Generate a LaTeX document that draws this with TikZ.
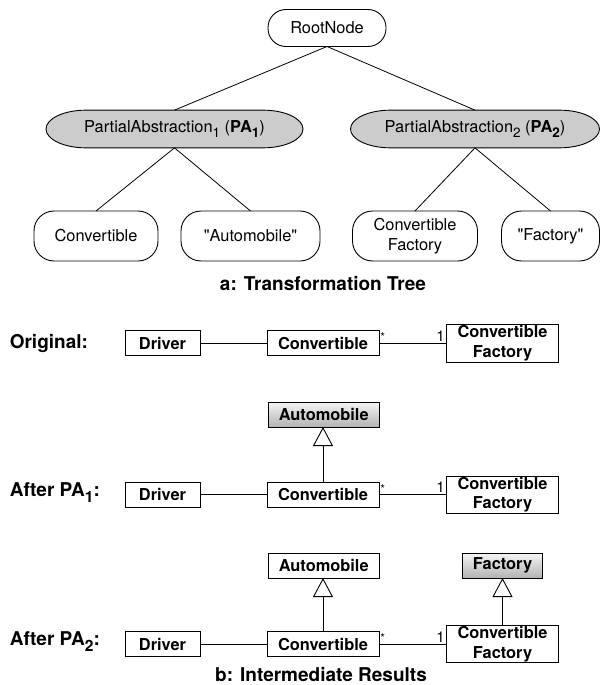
\documentclass[tikz,border=0pt]{standalone}
\usepackage{fontspec}
\setmainfont{TeX Gyre Heros}[Ligatures=TeXOff]
\usetikzlibrary{arrows.meta,backgrounds}
\newcommand\fsn{\fontsize{16.4}{19.5}\selectfont}
\newcommand\fsl{\fontsize{19}{22}\selectfont}
\newcommand\mysub[1]{\raisebox{-0.32em}{\scalebox{0.82}{#1}}}
\newcommand\pashape[1]{\draw[pafill] ([xshift=40pt]#1.north west) -- ([xshift=-40pt]#1.north east) arc[start angle=90,end angle=-90,x radius=40pt,y radius=18.85pt] -- ([xshift=40pt]#1.south west) arc[start angle=270,end angle=90,x radius=40pt,y radius=18.85pt] -- cycle;}
\tikzset{
  conn/.style={line width=0.8pt},
  leaf/.style={draw, line width=0.9pt, rounded corners=20pt, minimum height=50pt, inner sep=0pt, outer sep=0pt, align=center, font=\fsn},
  rootbox/.style={draw, line width=0.9pt, rounded corners=18pt, minimum height=37pt, minimum width=118pt, inner sep=0pt, outer sep=0pt, font=\fsn},
  panode/.style={minimum height=37.7pt, minimum width=257pt, inner sep=0pt, outer sep=0pt, font=\fsn},
  pafill/.style={draw, line width=0.9pt, fill=black!20},
  cls/.style={draw, line width=1pt, minimum height=25pt, inner sep=0pt, outer sep=0pt, align=center, font=\bfseries\fsn, fill=white},
  grcls/.style={cls, top color=black!4, bottom color=black!30},
  lbl/.style={anchor=west, inner sep=0pt, font=\bfseries\fsl},
  captxt/.style={inner sep=0pt, font=\bfseries\fsl},
  multone/.style={inner sep=1.5pt, font=\fontsize{15}{16}\selectfont},
  multstar/.style={inner sep=1pt, font=\fontsize{12}{13}\selectfont},
  gen/.style={line width=0.9pt, -{Triangle[open, fill=white, width=20pt, length=19pt]}},
}
\begin{document}
\begin{tikzpicture}[x=1pt, y=-1pt]
\useasboundingbox (0,0) rectangle (601,685);
% ---- a: tree
\node[rootbox] (root) at (327,28) {RootNode};
\node[panode] (pa1) at (174.5,129) {PartialAbstraction\mysub{1} (\textbf{PA\mysub{1}})};
\node[panode, minimum width=249pt] (pa2) at (475,129) {PartialAbstraction\mysub{2} (\textbf{PA\mysub{2}})};
\begin{scope}[on background layer]
\pashape{pa1}
\pashape{pa2}
\end{scope}
\node[leaf, minimum width=124pt] (lconv) at (96,236) {Convertible};
\node[leaf, minimum width=139pt] (lauto) at (250.5,236) {"Automobile"};
\node[leaf, minimum width=125pt] (lcf) at (415,236) {Convertible\\Factory};
\node[leaf, minimum width=98pt] (lfac) at (550.5,236) {"Factory"};
\draw[conn] (root.south) -- (pa1.north);
\draw[conn] (root.south) -- (pa2.north);
\draw[conn] (pa1.south) -- (lconv.north);
\draw[conn] (pa1.south) -- (lauto.north);
\draw[conn] (pa2.south) -- (lcf.north);
\draw[conn] (pa2.south) -- (lfac.north);
\node[captxt] (capa) at (323,284) {a: Transformation Tree};
% ---- b: row 1
\node[lbl] (l1) at (9.6,343) {Original:};
\node[cls, minimum width=75pt] (d1) at (162.5,343.3) {Driver};
\node[cls, minimum width=112pt] (c1) at (323,343.3) {Convertible};
\node[cls, minimum width=112pt, minimum height=38pt] (f1) at (502.5,343.3) {Convertible\\Factory};
\draw[conn] (d1) -- (c1);
\draw[conn] (c1.east) -- node[pos=0, anchor=south west, multstar] {*} node[pos=1, anchor=south east, multone] {1} (f1.west);
% ---- row 2
\node[grcls, minimum width=111pt] (a2) at (323.7,414.5) {Automobile};
\node[lbl] (l2) at (9.6,493) {After PA\mysub{1}:};
\node[cls, minimum width=75pt] (d2) at (162.5,494.5) {Driver};
\node[cls, minimum width=112pt] (c2) at (323,494.5) {Convertible};
\node[cls, minimum width=112pt, minimum height=37pt] (f2) at (502.5,494.5) {Convertible\\Factory};
\draw[conn] (d2) -- (c2);
\draw[conn] (c2.east) -- node[pos=0, anchor=south west, multstar] {*} node[pos=1, anchor=south east, multone] {1} (f2.west);
\draw[gen] (c2.north) -- (c2.north |- a2.south);
% ---- row 3
\node[cls, minimum width=111pt] (a3) at (323.7,565.5) {Automobile};
\node[grcls, minimum width=80pt] (fa3) at (502.5,565.5) {Factory};
\node[lbl] (l3) at (9.6,642) {After PA\mysub{2}:};
\node[cls, minimum width=75pt] (d3) at (162.5,644) {Driver};
\node[cls, minimum width=112pt] (c3) at (323,644) {Convertible};
\node[cls, minimum width=112pt, minimum height=37pt] (f3) at (502.5,644) {Convertible\\Factory};
\draw[conn] (d3) -- (c3);
\draw[conn] (c3.east) -- node[pos=0, anchor=south west, multstar] {*} node[pos=1, anchor=south east, multone] {1} (f3.west);
\draw[gen] (c3.north) -- (c3.north |- a3.south);
\draw[gen] (f3.north) -- (fa3.south);
\node[captxt] (capb) at (321,674.5) {b: Intermediate Results};
\end{tikzpicture}
\end{document}
